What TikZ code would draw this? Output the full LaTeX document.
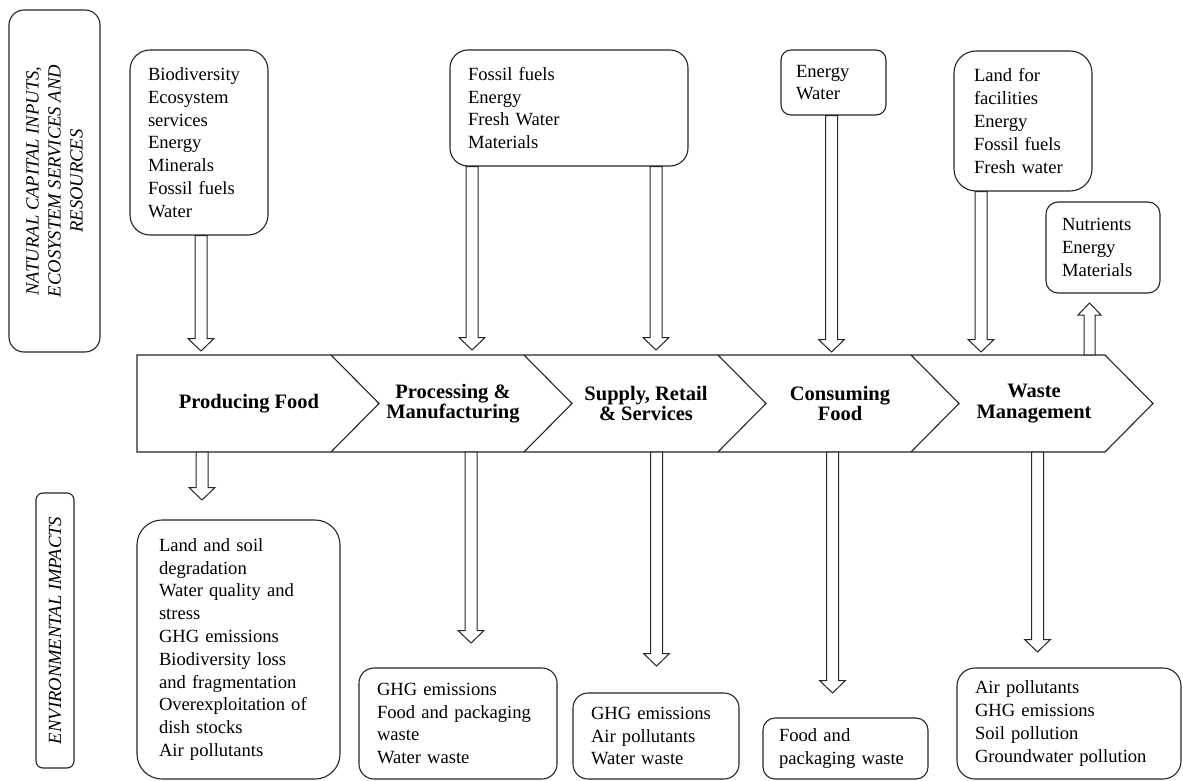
\documentclass[tikz,border=0pt]{standalone}
\usepackage{fontspec}
\setmainfont{Liberation Serif}
\usetikzlibrary{calc}
\tikzset{
  outline/.style={draw=black!85, line width=1.1pt},
  box/.style={outline, align=left, inner ysep=0pt, font=\fontsize{18.6}{22.8}\selectfont},
  blk/.style={draw=black!85, line width=1pt, fill=white},
  stage/.style={align=center, minimum height=97pt, inner sep=0pt, font=\fontsize{20.5}{20.5}\selectfont\bfseries},
  side/.style={outline, rotate=90, align=center, inner sep=0pt, font=\fontsize{18.6}{22}\selectfont\itshape}
}
\newcommand\blkdown[2]{\draw[blk] let \p1=(#1), \p2=(#2) in
  (\x2-6pt,\y1) -- (\x2-6pt,\y2+12.5pt) -- (\x2-13pt,\y2+12.5pt) -- (\x2,\y2)
  -- (\x2+13pt,\y2+12.5pt) -- (\x2+6pt,\y2+12.5pt) -- (\x2+6pt,\y1) -- cycle;}
\newcommand\blkup[2]{\draw[blk] let \p1=(#1), \p2=(#2) in
  (\x2-5.5pt,\y1) -- (\x2-5.5pt,\y2-12pt) -- (\x2-11.5pt,\y2-12pt) -- (\x2,\y2)
  -- (\x2+11.5pt,\y2-12pt) -- (\x2+5.5pt,\y2-12pt) -- (\x2+5.5pt,\y1) -- cycle;}
\begin{document}
\begin{tikzpicture}[x=1pt, y=-1pt]
\useasboundingbox (0,0) rectangle (1183,781);
\fill[white] (0,0) rectangle (1183,781);

% side labels
\node[side, rounded corners=15pt, minimum width=342pt, minimum height=91pt] (nat) at (54.5,181)
  {NATURAL CAPITAL INPUTS,\\ECOSYSTEM SERVICES AND\\RESOURCES};
\node[side, rounded corners=7pt, minimum width=275pt, minimum height=38pt] (env) at (55,630.5)
  {ENVIRONMENTAL IMPACTS};

% band of stages
\draw[outline] (137,355) -- (1105,355) -- (1153,403.5) -- (1105,452) -- (137,452) -- cycle;
\draw[outline] (331,355) -- (379,403.5) -- (331,452);
\draw[outline] (524,355) -- (572,403.5) -- (524,452);
\draw[outline] (718,355) -- (766,403.5) -- (718,452);
\draw[outline] (911,355) -- (959,403.5) -- (911,452);
\node[stage] (p1) at (249,403.5) {Producing Food};
\node[stage] (p2) at (453,403.5) {Processing \&\\Manufacturing};
\node[stage] (p3) at (646,403.5) {Supply, Retail\\\& Services};
\node[stage] (p4) at (840,403.5) {Consuming\\Food};
\node[stage] (p5) at (1034,403.5) {Waste\\Management};

% top boxes
\node[box, rounded corners=20pt, minimum width=138pt, minimum height=185pt, inner xsep=18pt, text width=102pt] (bio) at (199,142.5)
  {Biodiversity\\Ecosystem\\services\\Energy\\Minerals\\Fossil fuels\\Water};
\node[box, rounded corners=18pt, minimum width=238pt, minimum height=116pt, inner xsep=18pt, text width=202pt] (fos) at (569,108)
  {Fossil fuels\\Energy\\Fresh Water\\Materials};
\node[box, rounded corners=10pt, minimum width=105pt, minimum height=65pt, inner xsep=15pt, text width=75pt] (enw) at (833.5,82.5)
  {Energy\\Water};
\node[box, rounded corners=22pt, minimum width=138pt, minimum height=140pt, inner xsep=20pt, text width=98pt] (lfa) at (1023,121)
  {Land for\\facilities\\Energy\\Fossil fuels\\Fresh water};
\node[box, rounded corners=12pt, minimum width=114pt, minimum height=91pt, inner xsep=16pt, text width=82pt] (nut) at (1103,247.5)
  {Nutrients\\Energy\\Materials};

% bottom boxes
\node[box, rounded corners=25pt, minimum width=203pt, minimum height=259pt, inner xsep=22pt, text width=159pt] (lsd) at (238.5,649.5)
  {Land and soil\\degradation\\Water quality and\\stress\\GHG emissions\\Biodiversity loss\\and fragmentation\\Overexploitation of\\dish stocks\\Air pollutants};
\node[box, rounded corners=15pt, minimum width=198pt, minimum height=111pt, inner xsep=18pt, text width=162pt] (ghp) at (458,723.5)
  {GHG emissions\\Food and packaging\\waste\\Water waste};
\node[box, rounded corners=15pt, minimum width=166pt, minimum height=86pt, inner xsep=18pt, text width=130pt] (ghs) at (656,736)
  {GHG emissions\\Air pollutants\\Water waste};
\node[box, rounded corners=12pt, minimum width=165pt, minimum height=61pt, inner xsep=16pt, text width=133pt] (fpw) at (845.5,748.5)
  {Food and\\packaging waste};
\node[box, rounded corners=18pt, minimum width=224pt, minimum height=111pt, inner xsep=18pt, text width=188pt] (apl) at (1069,723.5)
  {Air pollutants\\GHG emissions\\Soil pollution\\Groundwater pollution};

% arrow tips
\coordinate (t1) at (201,351);
\coordinate (t2) at (472,350);
\coordinate (t3) at (656,350);
\coordinate (t4) at (831.5,352);
\coordinate (t5) at (981,352);
\coordinate (t6) at (1089.5,303);
\coordinate (b1) at (202,500);
\coordinate (b2) at (471,643);
\coordinate (b3) at (656.5,666);
\coordinate (b4) at (832.5,693);
\coordinate (b5) at (1037.5,652);

% inputs
\blkdown{bio.south}{t1}
\blkdown{fos.south}{t2}
\blkdown{fos.south}{t3}
\blkdown{enw.south}{t4}
\blkdown{lfa.south}{t5}
\blkup{p5.north}{t6}
% impacts
\blkdown{p1.south}{b1}
\blkdown{p2.south}{b2}
\blkdown{p3.south}{b3}
\blkdown{p4.south}{b4}
\blkdown{p5.south}{b5}
\end{tikzpicture}
\end{document}
